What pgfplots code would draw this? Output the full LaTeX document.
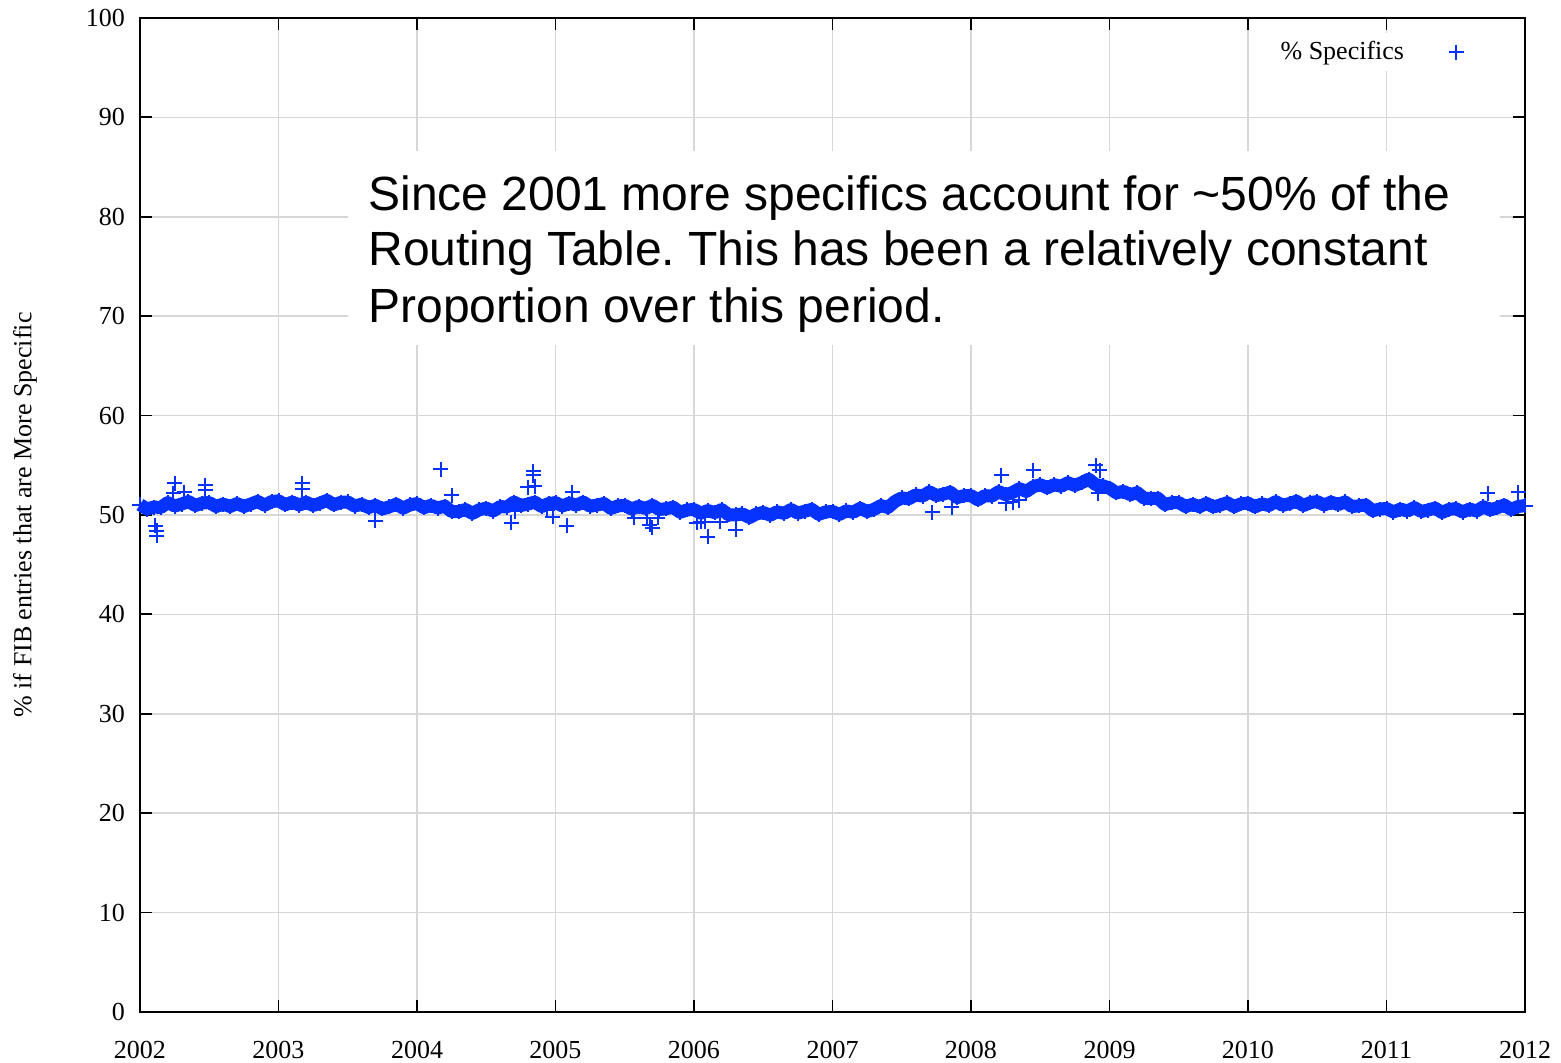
\documentclass[border=0pt]{standalone}
\usepackage{pgfplots}
\pgfplotsset{compat=1.18}
\usepackage{pgfplotstable}
\usepackage{fontspec}
\setmainfont{Liberation Serif}
\newfontfamily\arialfont{Liberation Sans}
\definecolor{specblue}{RGB}{5,50,255}
\definecolor{gridgray}{RGB}{215,215,215}
\frenchspacing
\pgfplotsset{farmark/.style={legend image code/.code={\path[draw=none, fill=none] (0pt,-2pt) rectangle (39.5pt,2pt); \draw[##1] plot coordinates {(24pt,0pt)};}}}

\pgfplotstableread[row sep=\\]{
x y\\
2002.00 51.05\\ 2002.05 50.60\\ 2002.10 50.80\\ 2002.15 50.75\\ 2002.20 51.25\\
2002.25 50.90\\ 2002.30 51.10\\ 2002.35 51.35\\ 2002.40 50.95\\ 2002.45 51.20\\
2002.50 51.25\\ 2002.55 50.85\\ 2002.60 51.10\\ 2002.65 50.85\\ 2002.70 51.15\\
2002.75 50.85\\ 2002.80 51.10\\ 2002.85 51.37\\ 2002.90 50.98\\ 2002.95 51.35\\
2003.00 51.42\\ 2003.05 51.03\\ 2003.10 51.30\\ 2003.15 51.00\\ 2003.20 51.28\\
2003.25 50.96\\ 2003.30 51.19\\ 2003.35 51.47\\ 2003.40 51.02\\ 2003.45 51.27\\
2003.50 51.31\\ 2003.55 50.90\\ 2003.60 51.08\\ 2003.65 50.75\\ 2003.70 50.97\\
2003.75 50.61\\ 2003.80 50.82\\ 2003.85 51.09\\ 2003.90 50.68\\ 2003.95 51.02\\
2004.00 51.15\\ 2004.05 50.73\\ 2004.10 50.97\\ 2004.15 50.70\\ 2004.20 50.90\\
2004.25 50.34\\ 2004.30 50.33\\ 2004.35 50.55\\ 2004.40 50.16\\ 2004.45 50.53\\
2004.50 50.69\\ 2004.55 50.40\\ 2004.60 50.85\\ 2004.65 50.80\\ 2004.70 51.30\\
2004.75 50.95\\ 2004.80 51.10\\ 2004.85 51.30\\ 2004.90 50.85\\ 2004.95 51.15\\
2005.00 51.25\\ 2005.05 50.90\\ 2005.10 51.20\\ 2005.15 50.98\\ 2005.20 51.30\\
2005.25 50.88\\ 2005.30 51.00\\ 2005.35 51.15\\ 2005.40 50.66\\ 2005.45 50.91\\
2005.50 50.97\\ 2005.55 50.60\\ 2005.60 50.87\\ 2005.65 50.65\\ 2005.70 50.97\\
2005.75 50.55\\ 2005.80 50.64\\ 2005.85 50.78\\ 2005.90 50.27\\ 2005.95 50.51\\
2006.00 50.55\\ 2006.05 50.18\\ 2006.10 50.45\\ 2006.15 50.23\\ 2006.20 50.55\\
2006.25 50.00\\ 2006.30 50.00\\ 2006.35 50.11\\ 2006.40 49.74\\ 2006.45 50.10\\
2006.50 50.26\\ 2006.55 49.98\\ 2006.60 50.32\\ 2006.65 50.16\\ 2006.70 50.55\\
2006.75 50.19\\ 2006.80 50.38\\ 2006.85 50.57\\ 2006.90 50.06\\ 2006.95 50.31\\
2007.00 50.35\\ 2007.05 50.06\\ 2007.10 50.41\\ 2007.15 50.27\\ 2007.20 50.68\\
2007.25 50.35\\ 2007.30 50.57\\ 2007.35 50.95\\ 2007.40 50.75\\ 2007.45 51.35\\
2007.50 51.72\\ 2007.55 51.62\\ 2007.60 52.02\\ 2007.65 51.90\\ 2007.70 52.33\\
2007.75 51.95\\ 2007.80 52.10\\ 2007.85 52.30\\ 2007.90 51.75\\ 2007.95 51.95\\
2008.00 51.95\\ 2008.05 51.52\\ 2008.10 51.95\\ 2008.15 51.90\\ 2008.20 52.35\\
2008.25 52.03\\ 2008.30 52.27\\ 2008.35 52.65\\ 2008.40 52.37\\ 2008.45 52.85\\
2008.50 53.05\\ 2008.55 52.73\\ 2008.60 53.05\\ 2008.65 52.88\\ 2008.70 53.25\\
2008.75 52.97\\ 2008.80 53.26\\ 2008.85 53.61\\ 2008.90 53.05\\ 2008.95 52.95\\
2009.00 52.70\\ 2009.05 52.22\\ 2009.10 52.38\\ 2009.15 52.04\\ 2009.20 52.25\\
2009.25 51.68\\ 2009.30 51.65\\ 2009.35 51.68\\ 2009.40 51.05\\ 2009.45 51.23\\
2009.50 51.25\\ 2009.55 50.84\\ 2009.60 51.08\\ 2009.65 50.83\\ 2009.70 51.17\\
2009.75 50.81\\ 2009.80 51.00\\ 2009.85 51.24\\ 2009.90 50.83\\ 2009.95 51.13\\
2010.00 51.20\\ 2010.05 50.81\\ 2010.10 51.12\\ 2010.15 50.95\\ 2010.20 51.34\\
2010.25 50.97\\ 2010.30 51.15\\ 2010.35 51.39\\ 2010.40 50.95\\ 2010.45 51.25\\
2010.50 51.35\\ 2010.55 51.00\\ 2010.60 51.30\\ 2010.65 51.04\\ 2010.70 51.32\\
2010.75 50.85\\ 2010.80 50.92\\ 2010.85 51.00\\ 2010.90 50.43\\ 2010.95 50.60\\
2011.00 50.65\\ 2011.05 50.30\\ 2011.10 50.60\\ 2011.15 50.40\\ 2011.20 50.75\\
2011.25 50.35\\ 2011.30 50.50\\ 2011.35 50.70\\ 2011.40 50.25\\ 2011.45 50.55\\
2011.50 50.65\\ 2011.55 50.30\\ 2011.60 50.60\\ 2011.65 50.40\\ 2011.70 50.83\\
2011.75 50.51\\ 2011.80 50.74\\ 2011.85 51.00\\ 2011.90 50.55\\ 2011.95 50.85\\
2012.00 50.95\\
}\bandtable

\pgfplotstableread[row sep=\\]{
x y\\
2002.11 48.9\\ 2002.12 48.4\\ 2002.12 47.9\\ 2002.25 53.2\\ 2002.24 52.2\\
2002.32 52.3\\ 2002.47 53.0\\ 2002.47 52.5\\ 2003.17 53.2\\ 2003.17 52.6\\
2003.70 49.4\\ 2004.17 54.6\\ 2004.25 52.0\\ 2004.68 49.2\\ 2004.71 50.4\\
2004.80 52.8\\ 2004.84 54.4\\ 2004.84 54.0\\ 2004.85 52.9\\ 2004.94 50.5\\
2004.98 49.8\\ 2005.08 48.9\\ 2005.12 52.3\\ 2005.57 49.7\\ 2005.66 49.7\\
2005.68 49.0\\ 2005.70 48.7\\ 2005.74 49.7\\ 2006.02 49.2\\ 2006.05 49.3\\
2006.08 49.3\\ 2006.10 47.8\\ 2006.19 49.3\\ 2006.30 48.5\\ 2007.72 50.3\\
2007.86 50.8\\ 2008.22 54.0\\ 2008.25 51.2\\ 2008.30 51.3\\ 2008.35 51.5\\
2008.45 54.5\\ 2008.90 55.0\\ 2008.93 54.5\\ 2008.92 52.2\\ 2011.73 52.2\\
2011.95 52.3\\
}\outliertable

\begin{document}
\begin{tikzpicture}
\begin{axis}[
  anchor=south west, at={(0,0)},
  scale only axis,
  width=692.5pt, height=497pt,
  xmin=2002, xmax=2012, ymin=0, ymax=100,
  xtick={2002,2003,...,2012},
  ytick={0,10,...,100},
  /pgf/number format/1000 sep={},
  /pgf/number format/assume math mode=true,
  tick pos=both, tick align=inside,
  major tick length=6pt,
  tick style={black, line width=0.9pt},
  axis line style={black, line width=1pt},
  grid=major,
  major grid style={gridgray, line width=0.75pt},
  ticklabel style={font=\fontsize{13}{15}\selectfont},
  xticklabel style={yshift=-11pt},
  yticklabel style={xshift=-4pt},
  ylabel={\% if FIB entries that are More Specific},
  ylabel style={font=\fontsize{13}{15}\selectfont, at={(axis description cs:0,0.5)}, anchor=center, yshift=57.5pt},
  clip=false,
  legend plot pos=right,
  legend cell align=right,
  legend style={draw=none, fill=white, at={(rel axis cs:1,1)}, anchor=north east,
    xshift=-15.75pt, yshift=-7.5pt, font=\fontsize{13}{15}\selectfont},
]
\addplot[specblue, line width=6.5pt, line join=round, forget plot] table {\bandtable};
\addplot[specblue, only marks, mark=+, mark size=3.75pt, line width=1pt, farmark] table {\bandtable};
\addlegendentry{\% Specifics}
\addplot[specblue, only marks, mark=+, mark size=3.75pt, line width=1pt, forget plot] table {\outliertable};
\fill[white] (axis cs:2003.50,67.1) rectangle (axis cs:2011.82,86.6);
\node[anchor=base west, inner sep=0pt, font=\arialfont\fontsize{24}{28}\selectfont] at (axis cs:2003.646,80.68) {Since 2001 more specifics account for \textasciitilde 50\% of the};
\node[anchor=base west, inner sep=0pt, font=\arialfont\fontsize{24}{28}\selectfont] at (axis cs:2003.646,75.05) {Routing Table. This has been a relatively constant};
\node[anchor=base west, inner sep=0pt, font=\arialfont\fontsize{24}{28}\selectfont] at (axis cs:2003.646,69.32) {Proportion over this period.};
\end{axis}
\pgfresetboundingbox
\useasboundingbox (-70pt,-25.5pt) rectangle (710.5pt,506pt);
\end{tikzpicture}
\end{document}
